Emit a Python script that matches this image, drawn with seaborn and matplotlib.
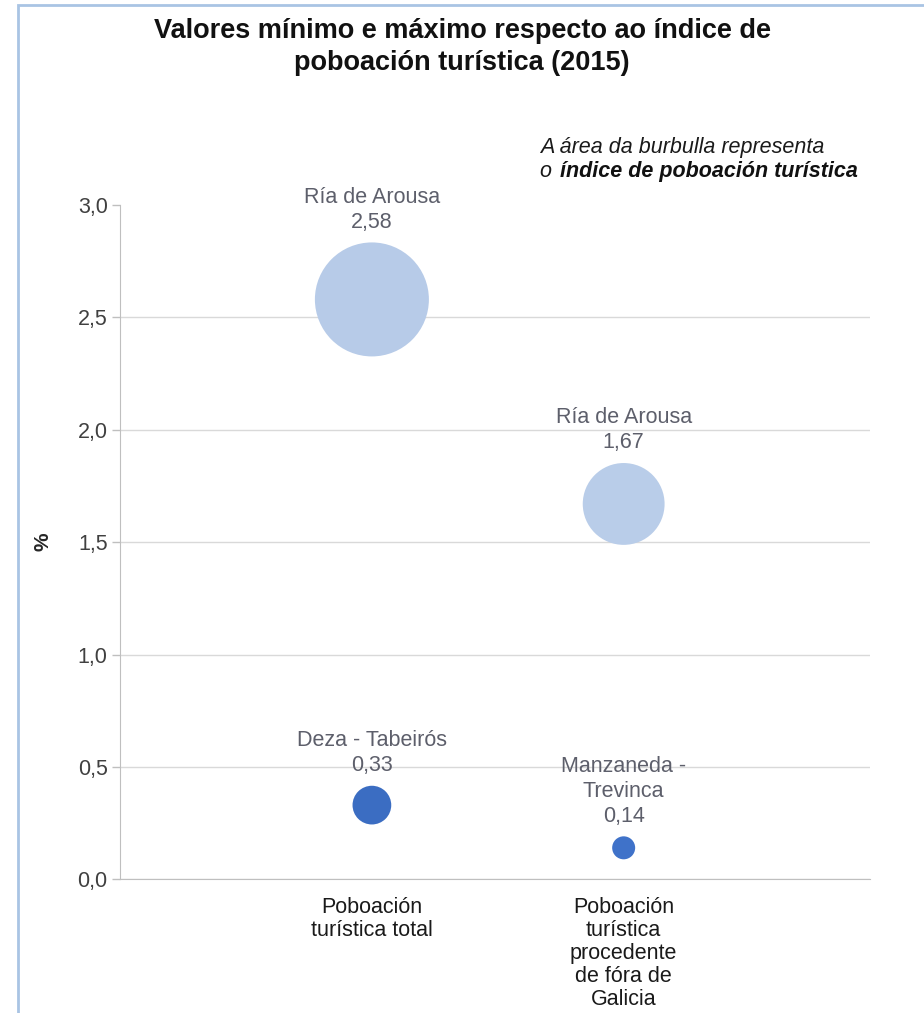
import numpy as np
import pandas as pd
import matplotlib
matplotlib.use("Agg")
import matplotlib.pyplot as plt
from matplotlib.patches import Rectangle
import seaborn as sns

# data
categories = ["Poboación\nturística total",
              "Poboación\nturística\nprocedente\nde fóra de\nGalicia"]
cat_pos = [1, 1, 2, 2]
regions = ["Ría de Arousa", "Deza - Tabeirós", "Ría de Arousa", "Manzaneda -\nTrevinca"]
values = [2.58, 0.33, 1.67, 0.14]
# bubble area ~ tourist population index
index_values = [13.0, 1.5, 6.7, 0.53]
colors = ["#b7cbe8", "#3b6dc2", "#b9cde9", "#3f72c9"]
yticks = [0.0, 0.5, 1.0, 1.5, 2.0, 2.5, 3.0]

df = pd.DataFrame({"x": cat_pos, "y": values, "idx": index_values,
                   "region": regions, "point": range(len(values))})

sns.set_style("white")
plt.rcParams["font.family"] = ["Liberation Sans", "DejaVu Sans"]

fig = plt.figure(figsize=(9.24, 10.13), dpi=100)
ax = fig.add_axes([0.130, 0.132, 0.812, 0.6656])

# marker area (pt^2) for smallest and largest bubble
d_min, d_max = 23 * 0.72, 114 * 0.72
sns.scatterplot(data=df, x="x", y="y", size="idx", sizes=(d_min**2, d_max**2),
                hue="point", palette=colors, edgecolor="none", alpha=1,
                legend=False, ax=ax, zorder=3)

ax.set_xlim(0, 2.98)
ax.set_ylim(0, 3)
ax.set_yticks(yticks)
ax.set_yticklabels([f"{v:.1f}".replace(".", ",") for v in yticks],
                   fontsize=15.5, color="#404040")
ax.set_xticks([1, 2])
ax.set_xticklabels(categories, fontsize=15.5, color="#1a1a1a", linespacing=1.12)
ax.tick_params(axis="x", length=0, pad=13)
ax.tick_params(axis="y", length=6, width=1, color="#bfbfbf", pad=3, direction="out", left=True)
ax.set_xlabel("")
ax.set_ylabel("%", fontsize=15, fontweight="bold", labelpad=18)

ax.yaxis.grid(True, color="#d9d9d9", linewidth=1)
ax.get_ygridlines()[-1].set_visible(False)
ax.set_axisbelow(True)
for s in ["top", "right"]:
    ax.spines[s].set_visible(False)
ax.spines["left"].set_color("#bfbfbf")
ax.spines["bottom"].set_color("#bfbfbf")

# bubble labels
smin, smax = d_min**2, d_max**2
vmin, vmax = min(index_values), max(index_values)
for xv, yv, iv, reg in zip(cat_pos, values, index_values, regions):
    s = smin + (iv - vmin) / (vmax - vmin) * (smax - smin)
    r = np.sqrt(s) / 2
    ax.annotate(f"{reg}\n{yv:.2f}".replace(".", ","), xy=(xv, yv),
                xytext=(0, r + 7), textcoords="offset points",
                ha="center", va="bottom", fontsize=15.5, color="#5d5f6b",
                linespacing=1.25, zorder=4)

fig.text(0.5, 0.982, "Valores mínimo e máximo respecto ao índice de\npoboación turística (2015)",
         ha="center", va="top", fontsize=19.5, fontweight="bold", color="#111111",
         linespacing=1.3)
fig.text(0.584, 0.854, "A área da burbulla representa", fontsize=15.5,
         style="italic", color="#1a1a1a", va="center")
o_txt = fig.text(0.584, 0.831, "o ", fontsize=15.5, style="italic", color="#1a1a1a",
                 va="center")
ax.annotate("índice de poboación turística", xy=(1, 0.5), xycoords=o_txt,
            xytext=(2, 0), textcoords="offset points", va="center", ha="left",
            fontsize=15.5, style="italic", fontweight="bold", color="#111111",
            annotation_clip=False)

fig.patches.append(Rectangle((18 / 924, -0.05), 1.2, 1.05 - 5 / 1013,
                             transform=fig.transFigure, fill=False,
                             edgecolor="#a9c4e4", linewidth=2))

fig.savefig("out.png", dpi=100)
